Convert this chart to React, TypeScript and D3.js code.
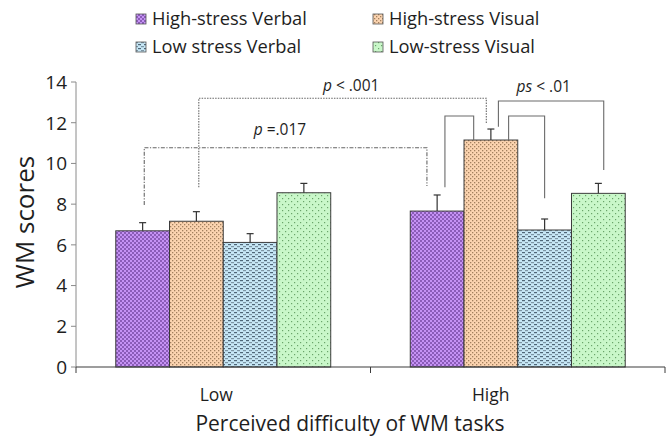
import React from "react";
import * as d3 from "d3";

const categories = ["Low", "High"];
const seriesNames = ["High-stress Verbal", "High-stress Visual", "Low stress Verbal", "Low-stress Visual"];
const lowValues = [6.69, 7.16, 6.12, 8.56];
const highValues = [7.66, 11.15, 6.73, 8.53];
const lowErrors = [0.4, 0.47, 0.43, 0.46];
const highErrors = [0.79, 0.54, 0.54, 0.49];
const yTicks = [0, 2, 4, 6, 8, 10, 12, 14];

// brackets: [category, series index] endpoints, y levels in data units
const bracketFrom = [["Low", 1, 0.045], ["Low", 0, 0.03], ["High", 0, 0.145], ["High", 1, 0.33], ["High", 1, 0.14]];
const bracketTo = [["High", 1, -0.085], ["High", 0, -0.19], ["High", 1, -0.32], ["High", 2, 0], ["High", 3, 0.1]];
const bracketTop = [13.2, 10.77, 12.33, 12.33, 13.07];
const bracketFromEnd = [8.83, 7.96, 8.83, 11.15, 11.8];
const bracketToEnd = [11.94, 8.89, 11.15, 8.29, 9.68];
const bracketKinds = ["dot", "dashdot", "solid", "solid", "solid"];
const bracketLabels = [
  { prefix: "p", rest: " < .001", along: 0.53, y: 13.58 },
  { prefix: "p", rest: " =.017", along: 0.48, y: 11.4 },
  null,
  null,
  { prefix: "ps", rest: " < .01", along: 0.43, y: 13.53 },
];

const W = 668;
const H = 437;
const FONT = "'Open Sans', 'Noto Sans', sans-serif";

export default function App() {
  const y = d3.scaleLinear().domain([0, 14]).range([367, 82]);
  const x0 = d3.scaleBand<string>().domain(categories).range([76, 665]).padding(0);
  const x1 = d3
    .scaleBand<number>()
    .domain(d3.range(seriesNames.length))
    .range([0, x0.bandwidth()])
    .paddingInner(0)
    .paddingOuter(0.74);
  const values: Record<string, number[]> = { Low: lowValues, High: highValues };
  const errors: Record<string, number[]> = { Low: lowErrors, High: highErrors };
  const fills = ["url(#pPurple)", "url(#pOrange)", "url(#pBlue)", "url(#pGreen)"];

  const px = (c: string, s: number, dx: number) =>
    (x0(c) as number) + (x1(s) as number) + x1.bandwidth() / 2 + dx * x1.bandwidth();

  const dashFor = (k: string) => (k === "dot" ? "1.5,1.2" : k === "dashdot" ? "4,1.5,1.2,1.5" : undefined);
  const colFor = (k: string) => (k === "solid" ? "#6a6a6a" : "#666");

  return (
    <svg width={W} height={H} style={{ display: "block", position: "absolute", left: 0, top: 0 }}>
      <defs>
        <pattern id="pPurple" width="4" height="4" patternUnits="userSpaceOnUse">
          <rect width="4" height="4" fill="#c592f4" />
          <rect x="0" y="0" width="2" height="2" fill="#8b5cb8" />
          <rect x="2" y="2" width="2" height="2" fill="#8b5cb8" />
        </pattern>
        <pattern id="pOrange" width="4" height="4" patternUnits="userSpaceOnUse">
          <rect width="4" height="4" fill="#fcd4b0" />
          <rect x="0" y="0" width="1.3" height="1.3" fill="#a2805e" />
          <rect x="2" y="2" width="1.3" height="1.3" fill="#a2805e" />
        </pattern>
        <pattern id="pBlue" width="6" height="4" patternUnits="userSpaceOnUse">
          <rect width="6" height="4" fill="#c6e7f6" />
          <rect x="0" y="0" width="3" height="1.2" fill="#4f6677" />
          <rect x="3" y="2" width="3" height="1.2" fill="#7d95a4" />
        </pattern>
        <pattern id="pGreen" width="6" height="6" patternUnits="userSpaceOnUse">
          <rect width="6" height="6" fill="#c9f7c9" />
          <rect x="0" y="0" width="1.2" height="1.2" fill="#6aa56a" />
          <rect x="3" y="3" width="1.2" height="1.2" fill="#6aa56a" />
        </pattern>
      </defs>

      {/* Legend */}
      {seriesNames.map((name, i) => {
        const col = i % 2;
        const row = Math.floor(i / 2);
        const tx = col === 0 ? 152 : 389;
        const base = row === 0 ? 25 : 53;
        return (
          <g key={name}>
            <rect x={tx - 16} y={base - 11} width={10} height={10} fill={fills[i]} stroke="#555" strokeWidth={0.8} />
            <text x={tx} y={base} fontFamily={FONT} fontSize={18.3} fill="#1e1e1e">
              {name}
            </text>
          </g>
        );
      })}

      {/* Bars */}
      {categories.map((c) =>
        values[c].map((v, i) => {
          const bx = (x0(c) as number) + (x1(i) as number);
          const cx = bx + x1.bandwidth() / 2;
          const top = y(v + errors[c][i]);
          return (
            <g key={c + i}>
              <rect x={bx} y={y(v)} width={x1.bandwidth()} height={y(0) - y(v)} fill={fills[i]} stroke="#3c3c3c" strokeWidth={1} />
              <line x1={cx} x2={cx} y1={y(v)} y2={top} stroke="#333" strokeWidth={1.2} />
              <line x1={cx - 3.5} x2={cx + 3.5} y1={top} y2={top} stroke="#333" strokeWidth={1.2} />
            </g>
          );
        })
      )}

      {/* Y axis */}
      <line x1={76} x2={76} y1={y(0)} y2={y(14)} stroke="#8a8a8a" strokeWidth={1} />
      {yTicks.map((t) => (
        <g key={t}>
          <line x1={71} x2={76} y1={y(t)} y2={y(t)} stroke="#8a8a8a" strokeWidth={1} />
          <text x={67} y={y(t)} dy="0.36em" textAnchor="end" fontFamily={FONT} fontSize={19} fill="#1e1e1e">
            {t}
          </text>
        </g>
      ))}
      <text
        transform={`translate(34, 222) rotate(-90)`}
        textAnchor="middle"
        fontFamily={FONT}
        fontSize={26}
        fill="#1e1e1e"
      >
        WM scores
      </text>

      {/* X axis */}
      <line x1={76} x2={665} y1={y(0)} y2={y(0)} stroke="#3c3c3c" strokeWidth={1.2} />
      {[76, (x0("High") as number), 665].map((tx, i) => (
        <line key={i} x1={tx} x2={tx} y1={y(0)} y2={y(0) + 6} stroke="#3c3c3c" strokeWidth={1} />
      ))}
      {categories.map((c, i) => (
        <text
          key={c}
          x={(x0(c) as number) + x0.bandwidth() / 2 + (i === 0 ? -7 : -27)}
          y={401}
          textAnchor="middle"
          fontFamily={FONT}
          fontSize={17.5}
          fill="#1e1e1e"
        >
          {c}
        </text>
      ))}
      <text x={350} y={431} textAnchor="middle" fontFamily={FONT} fontSize={21} fill="#1e1e1e">
        Perceived difficulty of WM tasks
      </text>

      {/* Significance brackets */}
      {bracketFrom.map((f, i) => {
        const t = bracketTo[i];
        const xa = px(f[0] as string, f[1] as number, f[2] as number);
        const xb = px(t[0] as string, t[1] as number, t[2] as number);
        const yt = y(bracketTop[i]);
        const k = bracketKinds[i];
        const lab = bracketLabels[i];
        return (
          <g key={i}>
            <path
              d={`M${xa},${y(bracketFromEnd[i])}V${yt}H${xb}V${y(bracketToEnd[i])}`}
              fill="none"
              stroke={colFor(k)}
              strokeWidth={1.1}
              strokeDasharray={dashFor(k)}
            />
            {lab && (
              <text
                x={xa + (xb - xa) * lab.along}
                y={y(lab.y)}
                textAnchor="middle"
                fontFamily={FONT}
                fontSize={15.5}
                fill="#1e1e1e"
              >
                <tspan fontStyle="italic">{lab.prefix}</tspan>
                {lab.rest}
              </text>
            )}
          </g>
        );
      })}
    </svg>
  );
}
